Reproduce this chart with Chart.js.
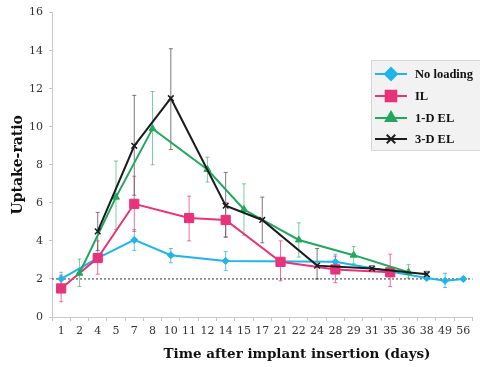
<!DOCTYPE html>
<html>
<head>
<meta charset="utf-8">
<script src="https://cdn.jsdelivr.net/npm/chart.js@4/dist/chart.umd.min.js"></script>
<style>
  html, body { margin: 0; padding: 0; background: #fff; }
  #wrap { width: 480px; height: 367px; position: relative; }
</style>
</head>
<body>
<div id="wrap"><canvas id="chart"></canvas></div>
<script>
// Categories (days after implant insertion)
const days = ['1','2','4','5','7','8','10','11','12','14','15','17','21','22','24','28','29','31','35','36','38','49','56'];

// Series values (null where the group was not measured)
const noLoading = [2.0,null,3.1,null,4.05,null,3.25,null,null,2.95,null,null,null,null,null,2.9,null,null,null,null,2.05,1.9,2.0];
const il        = [1.5,null,3.1,null,5.95,null,null,5.2,null,5.1,null,null,2.9,null,null,2.5,null,null,2.35,null,null,null,null];
const el1d      = [null,2.3,null,6.3,null,9.9,null,null,7.75,null,5.65,null,null,4.05,null,null,3.25,null,null,2.35,null,null,null];
const el3d      = [null,null,4.5,null,9.0,null,11.5,null,null,5.85,null,5.1,null,null,2.7,null,null,2.55,null,null,2.25,null,null];

// Error bars: [low, high] per category
const noLoadingErr = [[1.65,2.35],null,null,null,[3.5,4.6],null,[2.85,3.6],null,null,[2.45,3.45],null,null,null,null,null,[2.55,3.3],null,null,null,null,null,[1.55,2.3],[1.9,2.1]];
const ilErr        = [[0.8,2.2],null,[2.25,4.0],null,[4.5,7.4],null,null,[4.0,6.35],null,[4.2,6.0],null,null,[1.9,4.0],null,null,[1.8,3.2],null,null,[1.6,3.3],null,null,null,null];
const el1dErr      = [null,[1.6,3.05],null,[4.6,8.2],null,[8.0,11.85],null,null,[7.1,8.4],null,[4.3,7.0],null,null,[3.15,4.95],null,null,[2.8,3.7],null,null,[2.05,2.75],null,null,null];
const el3dErr      = [null,null,[3.5,5.5],null,[6.4,11.65],null,[8.8,14.1],null,null,[4.2,7.6],null,[3.9,6.3],null,null,[2.0,3.6],null,null,[2.4,2.7],null,null,[2.1,2.4],null,null];

const yTicks = [0, 2, 4, 6, 8, 10, 12, 14, 16];
const refLine = 2;
const xTitle = 'Time after implant insertion (days)';

const serif = '"DejaVu Serif", "Liberation Serif", serif';
const narrowSerif = '"Liberation Serif", serif';

const series = [
  { label: 'No loading', data: noLoading, err: noLoadingErr, color: '#1fb5e8', errColor: 'rgba(31,181,232,0.75)', style: 'rectRot', radius: 3.5 },
  { label: 'IL',         data: il,        err: ilErr,        color: '#e8327a', errColor: 'rgba(232,50,122,0.7)',  style: 'rect',    radius: 6.5 },
  { label: '1-D EL',     data: el1d,      err: el1dErr,      color: '#21a85e', errColor: 'rgba(33,168,94,0.6)',   style: 'triangle', radius: 4 },
  { label: '3-D EL',     data: el3d,      err: el3dErr,      color: '#1c1c1c', errColor: 'rgba(90,90,90,0.8)',    style: 'crossRot', radius: 4 }
];

// error bars drawn under the lines
const errorBars = {
  id: 'errorBars',
  beforeDatasetsDraw(chart) {
    const { ctx, scales: { x, y } } = chart;
    ctx.save();
    ctx.lineWidth = 1;
    series.forEach(s => {
      ctx.strokeStyle = s.errColor;
      s.err.forEach((e, i) => {
        if (!e) return;
        const px = x.getPixelForValue(i);
        const lo = y.getPixelForValue(e[0]);
        const hi = y.getPixelForValue(e[1]);
        ctx.beginPath();
        ctx.moveTo(px, lo); ctx.lineTo(px, hi);
        ctx.moveTo(px - 2, lo); ctx.lineTo(px + 2, lo);
        ctx.moveTo(px - 2, hi); ctx.lineTo(px + 2, hi);
        ctx.stroke();
      });
    });
    // dotted reference line at uptake-ratio 2
    const ry = y.getPixelForValue(refLine);
    ctx.strokeStyle = '#333';
    ctx.setLineDash([2, 2]);
    ctx.beginPath();
    ctx.moveTo(chart.chartArea.left, ry);
    ctx.lineTo(chart.chartArea.right, ry);
    ctx.stroke();
    ctx.restore();
  }
};

// legend box inside the plot + x axis title (sits right of centre in the original)
const boxLegend = {
  id: 'boxLegend',
  afterDraw(chart) {
    const ctx = chart.ctx;
    const bx = 371, by = 60, bw = 112, bh = 90;
    ctx.save();
    ctx.fillStyle = '#f2f2f2';
    ctx.strokeStyle = '#d6d6d6';
    ctx.lineWidth = 1;
    ctx.fillRect(bx, by, bw, bh);
    ctx.strokeRect(bx + 0.5, by + 0.5, bw, bh);
    const rows = [74, 96, 118, 139];
    series.forEach((s, i) => {
      const yy = rows[i];
      ctx.strokeStyle = s.color;
      ctx.lineWidth = 2;
      ctx.beginPath();
      ctx.moveTo(375, yy); ctx.lineTo(407, yy);
      ctx.stroke();
      const r = s.style === 'rect' ? 7.5 : 6;
      ctx.fillStyle = s.color;
      ctx.strokeStyle = s.color;
      Chart.helpers.drawPoint(ctx, { pointStyle: s.style, radius: r, borderWidth: s.style === 'crossRot' ? 2.5 : 1 }, 391, yy);
      ctx.fillStyle = '#111';
      ctx.font = 'bold 12.5px ' + narrowSerif;
      ctx.textBaseline = 'middle';
      ctx.fillText(s.label, 415, yy + 1);
    });

    ctx.fillStyle = '#111';
    ctx.font = 'bold 13.5px ' + serif;
    ctx.textAlign = 'center';
    ctx.textBaseline = 'middle';
    ctx.fillText(xTitle, 297, 354);
    ctx.restore();
  }
};

new Chart(document.getElementById('chart'), {
  type: 'line',
  data: {
    labels: days,
    datasets: series.map((s, i) => ({
      label: s.label,
      data: s.data,
      spanGaps: true,
      borderColor: s.color,
      backgroundColor: s.color,
      borderWidth: 2,
      pointStyle: s.style,
      pointRadius: s.radius,
      pointBorderWidth: s.style === 'crossRot' ? 1.5 : 1,
      tension: 0,
      order: 4 - i
    }))
  },
  options: {
    responsive: true,
    maintainAspectRatio: false,
    animation: false,
    layout: { padding: { top: 12, right: 3, left: 6, bottom: 0 } },
    plugins: {
      legend: { display: false },
      tooltip: { enabled: false }
    },
    scales: {
      x: {
        type: 'category',
        offset: true,
        afterFit: s => { s.height = 50; },
        border: { color: '#c8c8c8' },
        grid: { display: true, drawOnChartArea: false, drawTicks: true, tickLength: 4, offset: true, color: '#c8c8c8' },
        ticks: { color: '#333', font: { family: serif, size: 11 }, maxRotation: 0, autoSkip: false, padding: 4 }
      },
      y: {
        min: 0,
        max: 16,
        afterFit: s => { s.width = 46; },
        afterBuildTicks: s => { s.ticks = yTicks.map(v => ({ value: v })); },
        border: { color: '#c8c8c8' },
        grid: { display: true, drawOnChartArea: false, drawTicks: true, tickLength: 3, color: '#c8c8c8' },
        ticks: { color: '#333', font: { family: serif, size: 11 }, padding: 6 },
        title: { display: true, text: 'Uptake-ratio', color: '#111', font: { family: serif, size: 14, weight: 'bold' }, padding: { bottom: 2 } }
      }
    }
  },
  plugins: [errorBars, boxLegend]
});
</script>
</body>
</html>
